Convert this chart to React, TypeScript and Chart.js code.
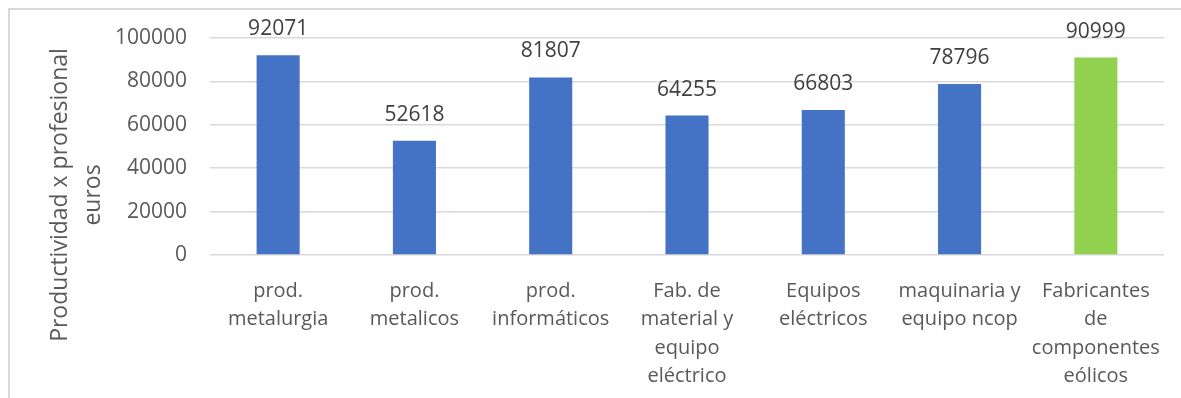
import { useEffect, useRef } from "react";
import { Chart, registerables } from "chart.js";

Chart.register(...registerables);

// Industry sectors (multi-line category labels)
const categories: string[][] = [
  ["prod.", "metalurgia"],
  ["prod.", "metalicos"],
  ["prod.", "informáticos"],
  ["Fab. de", "material y", "equipo", "eléctrico"],
  ["Equipos", "eléctricos"],
  ["maquinaria y", "equipo ncop"],
  ["Fabricantes", "de", "componentes", "eólicos"],
];

// Productivity per worker, in euros
const productivity: number[] = [92071, 52618, 81807, 64255, 66803, 78796, 90999];

// Value axis ticks
const yTicks: number[] = [0, 20000, 40000, 60000, 80000, 100000];

// Value axis title (two lines)
const yTitle: string[] = ["Productividad x profesional", "euros"];

// Sector drawn in the accent colour
const highlightIndex = 6;

const W = 1181;
const H = 398;
const FONT = "'Open Sans', 'Segoe UI', sans-serif";
const AXIS_TEXT = "#595959";
const LABEL_TEXT = "#404040";
const BLUE = "#4472C4";
const GREEN = "#92D050";
const GRID = "#D9D9D9";

const valueLabels = {
  id: "valueLabels",
  afterDatasetsDraw(chart: Chart) {
    const ctx = chart.ctx;
    const meta = chart.getDatasetMeta(0);
    ctx.save();
    ctx.font = `21px ${FONT}`;
    ctx.fillStyle = LABEL_TEXT;
    ctx.textAlign = "center";
    ctx.textBaseline = "middle";
    meta.data.forEach((bar: any, i: number) => {
      ctx.fillText(String(productivity[i]), bar.x, bar.y - 26);
    });
    ctx.restore();
  },
};

const axisTitle = {
  id: "axisTitle",
  afterDraw(chart: Chart) {
    const ctx = chart.ctx;
    ctx.save();
    ctx.font = `23px ${FONT}`;
    ctx.fillStyle = AXIS_TEXT;
    ctx.textAlign = "center";
    ctx.textBaseline = "middle";
    ctx.translate(60, 195);
    ctx.rotate(-Math.PI / 2);
    yTitle.forEach((line, i) => ctx.fillText(line, 0, i * 33));
    ctx.restore();
  },
};

function ProductivityChart() {
  const ref = useRef<HTMLCanvasElement | null>(null);

  useEffect(() => {
    if (!ref.current) return;
    const chart = new Chart(ref.current, {
      type: "bar",
      data: {
        labels: categories,
        datasets: [
          {
            data: productivity,
            backgroundColor: productivity.map((_, i) => (i === highlightIndex ? GREEN : BLUE)),
            categoryPercentage: 1,
            barPercentage: 0.316,
          },
        ],
      },
      options: {
        animation: false,
        responsive: false,
        devicePixelRatio: 1,
        layout: { padding: { left: 0, top: 38, right: 17, bottom: 0 } },
        plugins: {
          legend: { display: false },
          tooltip: { enabled: false },
        },
        scales: {
          x: {
            grid: { display: false },
            border: { display: false },
            ticks: {
              color: AXIS_TEXT,
              font: { family: FONT, size: 20, lineHeight: 1.42 },
              padding: 14,
              maxRotation: 0,
              autoSkip: false,
            },
            afterFit(scale: any) {
              scale.height = H - 255;
            },
          },
          y: {
            min: 0,
            max: 100000,
            grid: { color: GRID, lineWidth: 1.5, drawTicks: false },
            border: { display: false },
            ticks: {
              color: AXIS_TEXT,
              font: { family: FONT, size: 21 },
              padding: 23,
              callback: (v: any) => String(v),
            },
            afterBuildTicks(scale: any) {
              scale.ticks = yTicks.map((value) => ({ value }));
            },
            afterFit(scale: any) {
              scale.width = 210;
            },
          },
        },
      },
      plugins: [valueLabels, axisTitle],
    });
    return () => chart.destroy();
  }, []);

  return (
    <div
      style={{
        position: "fixed",
        left: 0,
        top: 0,
        width: W,
        height: H,
        overflow: "hidden",
        background: "#fff",
      }}
    >
      <div
        style={{
          position: "absolute",
          left: 8,
          top: 8,
          width: W,
          height: H,
          borderLeft: `2px solid ${GRID}`,
          borderTop: `2px solid ${GRID}`,
        }}
      />
      <canvas ref={ref} width={W} height={H} style={{ position: "absolute", left: 0, top: 0, display: "block" }} />
    </div>
  );
}

export default function App() {
  return <ProductivityChart />;
}
